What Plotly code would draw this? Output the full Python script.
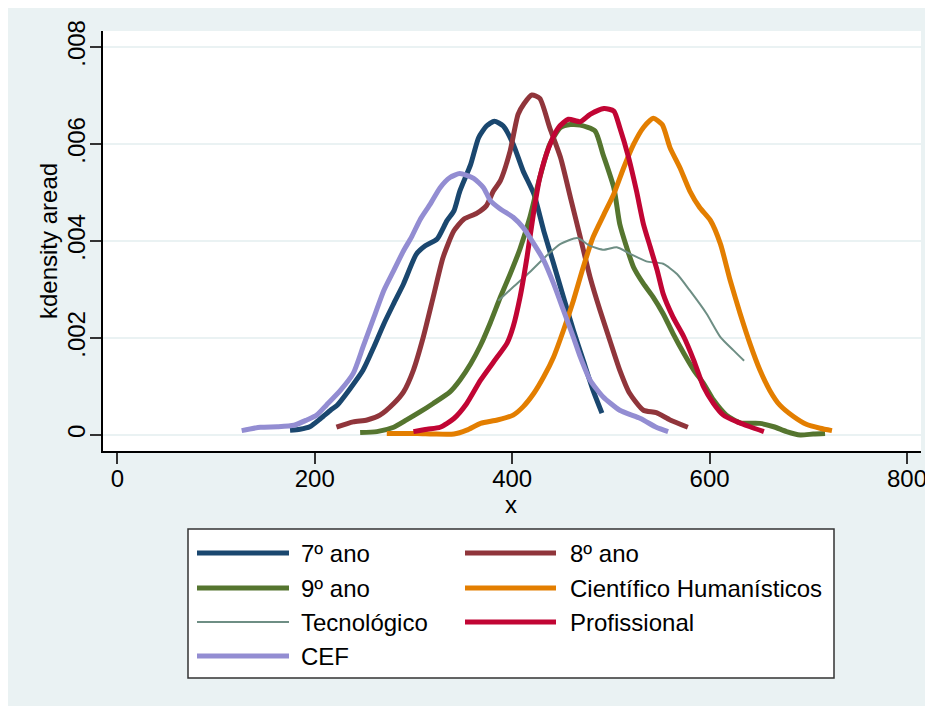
import plotly.graph_objects as go

# ---------------- data ----------------
series_names = ["7º ano", "8º ano", "9º ano", "Científico Humanísticos",
                "Tecnológico", "Profissional", "CEF"]
series_colors = ["#1A476F", "#90353B", "#55752F", "#E37E00",
                 "#6E8E84", "#C10534", "#938DD2"]
series_widths = [5, 5, 5, 5, 2, 5, 5]

x_7ano = [175, 185, 195, 206, 216, 223, 236, 249, 260, 270, 280, 290, 303, 312,
          324, 334, 341, 347, 358, 366, 374, 382, 391, 401, 411, 422, 432, 442,
          452, 462, 472, 482, 491]
y_7ano = [0.00010, 0.00012, 0.00017, 0.00034, 0.00051, 0.00062, 0.00096, 0.00134,
          0.00182, 0.00229, 0.00271, 0.00312, 0.00373, 0.00390, 0.00404, 0.00442,
          0.00462, 0.00503, 0.00558, 0.00613, 0.00637, 0.00647, 0.00637, 0.00600,
          0.00545, 0.00497, 0.00421, 0.00353, 0.00284, 0.00216, 0.00154, 0.00092,
          0.00045]

x_8ano = [222, 239, 253, 266, 280, 290, 300, 310, 320, 330, 341, 351, 364, 374,
          381, 388, 398, 406, 412, 420, 428, 438, 449, 459, 469, 479, 489, 499,
          509, 519, 533, 546, 560, 578]
y_8ano = [0.00016, 0.00027, 0.00031, 0.00041, 0.00065, 0.00089, 0.00134, 0.00202,
          0.00284, 0.00366, 0.00421, 0.00445, 0.00457, 0.00473, 0.00503, 0.00524,
          0.00586, 0.00661, 0.00683, 0.00701, 0.00694, 0.00634, 0.00572, 0.00490,
          0.00408, 0.00325, 0.00257, 0.00195, 0.00134, 0.00086, 0.00051, 0.00046,
          0.00031, 0.00016]

x_9ano = [246, 263, 280, 293, 307, 320, 337, 347, 358, 368, 378, 388, 398, 408,
          418, 428, 438, 449, 459, 469, 484, 492, 503, 509, 516, 523, 533, 543,
          553, 563, 574, 584, 594, 604, 617, 631, 651, 665, 678, 692, 705, 717]
y_9ano = [0.00005, 0.00007, 0.00016, 0.00031, 0.00048, 0.00065, 0.00089, 0.00113,
          0.00147, 0.00185, 0.00232, 0.00284, 0.00332, 0.00384, 0.00449, 0.00531,
          0.00599, 0.00634, 0.00640, 0.00639, 0.00627, 0.00579, 0.00510, 0.00435,
          0.00387, 0.00346, 0.00312, 0.00284, 0.00250, 0.00209, 0.00168, 0.00134,
          0.00106, 0.00072, 0.00041, 0.00025, 0.00024, 0.00017, 0.00007, 0.00000,
          0.00002, 0.00003]

x_cient = [273, 304, 320, 341, 354, 368, 385, 401, 411, 422, 432, 442, 452, 462,
           472, 482, 493, 503, 513, 523, 533, 543, 552, 560, 570, 580, 590, 601,
           611, 621, 631, 641, 651, 661, 671, 685, 698, 712, 724]
y_cient = [0.00003, 0.00003, 0.00002, 0.00002, 0.00010, 0.00024, 0.00031, 0.00041,
           0.00058, 0.00086, 0.00120, 0.00161, 0.00216, 0.00277, 0.00346, 0.00408,
           0.00455, 0.00497, 0.00551, 0.00599, 0.00634, 0.00653, 0.00640, 0.00592,
           0.00551, 0.00503, 0.00469, 0.00442, 0.00394, 0.00318, 0.00250, 0.00188,
           0.00134, 0.00092, 0.00062, 0.00038, 0.00022, 0.00014, 0.00009]

x_tecn = [386, 401, 418, 435, 449, 466, 479, 493, 506, 520, 536, 553, 567, 580,
          597, 611, 624, 635]
y_tecn = [0.00277, 0.00305, 0.00336, 0.00370, 0.00394, 0.00406, 0.00390, 0.00382,
          0.00387, 0.00373, 0.00358, 0.00353, 0.00332, 0.00298, 0.00250, 0.00202,
          0.00175, 0.00153]

x_prof = [300, 314, 327, 341, 354, 368, 381, 395, 401, 408, 415, 422, 428, 437,
          447, 457, 469, 479, 493, 503, 509, 518, 526, 533, 540, 547, 553, 563,
          574, 584, 594, 604, 614, 628, 641, 655]
y_prof = [0.00007, 0.00012, 0.00016, 0.00034, 0.00065, 0.00113, 0.00150, 0.00190,
          0.00223, 0.00284, 0.00366, 0.00462, 0.00531, 0.00592, 0.00634, 0.00651,
          0.00646, 0.00661, 0.00673, 0.00668, 0.00634, 0.00572, 0.00503, 0.00435,
          0.00387, 0.00339, 0.00291, 0.00243, 0.00202, 0.00154, 0.00099, 0.00065,
          0.00041, 0.00027, 0.00017, 0.00007]

x_cef = [126, 145, 162, 179, 192, 202, 212, 226, 239, 249, 260, 270, 280, 290,
         298, 307, 317, 327, 337, 347, 361, 371, 378, 388, 401, 411, 422, 432,
         442, 452, 462, 469, 479, 492, 509, 530, 546, 558]
y_cef = [0.00009, 0.00016, 0.00017, 0.00020, 0.00031, 0.00041, 0.00062, 0.00092,
         0.00127, 0.00182, 0.00243, 0.00298, 0.00339, 0.00380, 0.00408, 0.00445,
         0.00476, 0.00510, 0.00531, 0.00539, 0.00529, 0.00510, 0.00483, 0.00466,
         0.00449, 0.00428, 0.00394, 0.00360, 0.00312, 0.00257, 0.00202, 0.00161,
         0.00113, 0.00079, 0.00051, 0.00034, 0.00016, 0.00007]

series_x = [x_7ano, x_8ano, x_9ano, x_cient, x_tecn, x_prof, x_cef]
series_y = [y_7ano, y_8ano, y_9ano, y_cient, y_tecn, y_prof, y_cef]

x_tick_vals = [0, 200, 400, 600, 800]
x_tick_text = ["0", "200", "400", "600", "800"]
y_tick_vals = [0, 0.002, 0.004, 0.006, 0.008]
y_tick_text = ["0", ".002", ".004", ".006", ".008"]

x_title = "x"
y_title = "kdensity aread"

# ---------------- layout geometry (pixels) ----------------
W, H = 933, 706
OFF = 8  # page body margin
ML, MR, MT, MB = 95, 20, 23, 263
PW, PH = W - ML - MR, H - MT - MB
BG = "#EAF2F3"
FONT = "Arial, Liberation Sans, sans-serif"


def px_x(p):
    """page pixel -> paper x"""
    return (p - OFF - ML) / PW


def px_y(p):
    """page pixel -> paper y"""
    return (H - MB - (p - OFF)) / PH


fig = go.Figure()
for name, xs, ys, col, lw in zip(series_names, series_x, series_y,
                                 series_colors, series_widths):
    fig.add_trace(go.Scatter(x=xs, y=ys, mode="lines", name=name,
                             line=dict(color=col, width=lw, shape="spline",
                                       smoothing=0.6),
                             showlegend=False))

shapes = []
annotations = []

# legend box
shapes.append(dict(type="rect", xref="paper", yref="paper",
                   x0=px_x(188), x1=px_x(834), y0=px_y(529), y1=px_y(678),
                   fillcolor="white", line=dict(color="#333333", width=1.5)))
col_line_x = [(197, 289), (465, 556)]
col_text_x = [299, 568]
row_y = [553, 588, 622, 656]
for i, (name, col, lw) in enumerate(zip(series_names, series_colors, series_widths)):
    r, c = divmod(i, 2)
    lx0, lx1 = col_line_x[c]
    shapes.append(dict(type="line", xref="paper", yref="paper",
                       x0=px_x(lx0), x1=px_x(lx1), y0=px_y(row_y[r]), y1=px_y(row_y[r]),
                       line=dict(color=col, width=lw)))
    annotations.append(dict(xref="paper", yref="paper", x=px_x(col_text_x[c]),
                            y=px_y(row_y[r]), xanchor="left", yanchor="middle",
                            text=name, showarrow=False,
                            font=dict(family=FONT, size=24, color="black")))

# axis titles
annotations.append(dict(xref="paper", yref="paper", x=px_x(511), y=px_y(504),
                        xanchor="center", yanchor="middle", text=x_title,
                        showarrow=False, font=dict(family=FONT, size=24, color="black")))
annotations.append(dict(xref="paper", yref="paper", x=px_x(48), y=px_y(241),
                        xanchor="center", yanchor="middle", text=y_title,
                        textangle=-90, showarrow=False,
                        font=dict(family=FONT, size=24, color="black")))

fig.update_layout(
    width=W, height=H,
    margin=dict(l=ML, r=MR, t=MT, b=MB, pad=0),
    paper_bgcolor=BG, plot_bgcolor="white",
    font=dict(family=FONT, size=24, color="black"),
    shapes=shapes, annotations=annotations,
    showlegend=False,
    xaxis=dict(range=[-14.5, 814.2], tickvals=x_tick_vals, ticktext=x_tick_text,
               showgrid=False, zeroline=False, showline=True, linecolor="black",
               linewidth=1.5, ticks="outside", ticklen=11, tickwidth=1.5,
               tickcolor="#333333", tickfont=dict(size=24), ticklabelstandoff=-6),
    yaxis=dict(range=[-0.00033, 0.00833], tickvals=y_tick_vals, ticktext=y_tick_text,
               showgrid=True, gridcolor=BG, gridwidth=1.5, zeroline=False,
               showline=True, linecolor="black", linewidth=1.5, ticks="outside",
               ticklen=11, tickwidth=1.5, tickcolor="#333333", tickangle=-90,
               tickfont=dict(size=24), ticklabelstandoff=-4),
)

fig.write_html("out.html")
